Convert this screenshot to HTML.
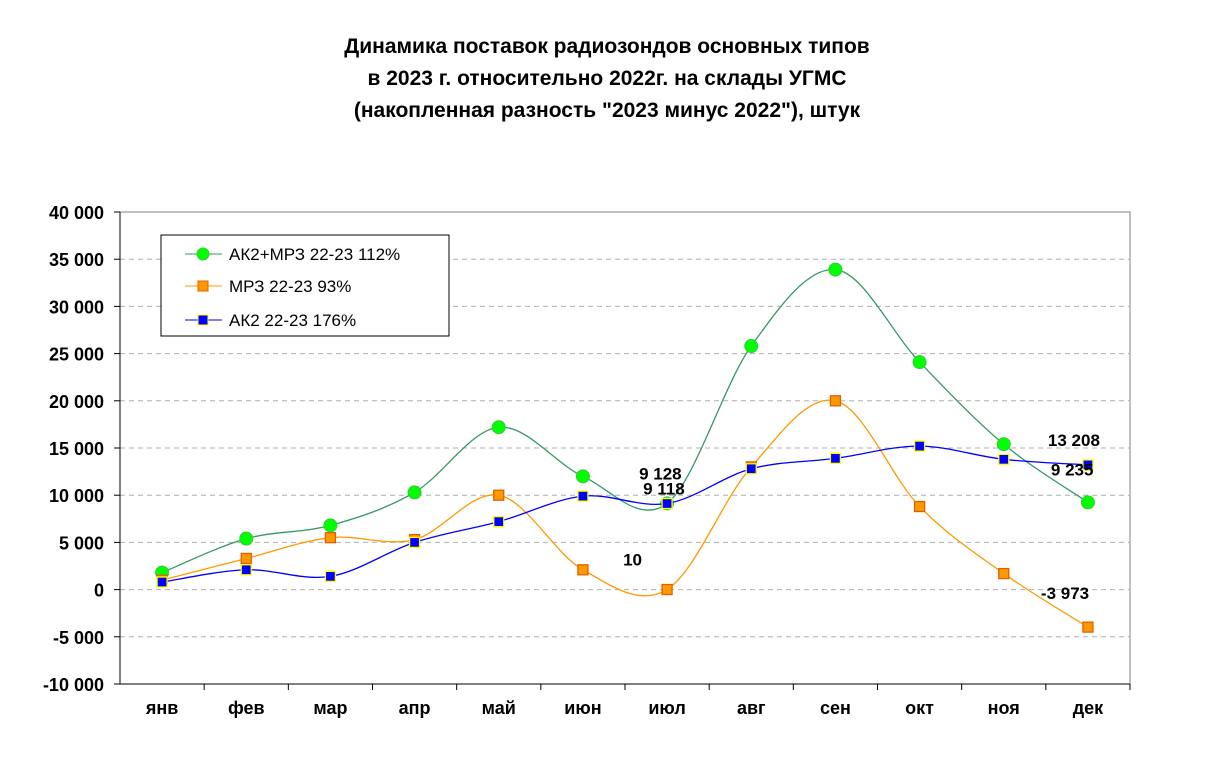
<!DOCTYPE html>
<html><head><meta charset="utf-8"><style>
body{margin:0;background:#fff;}
svg text{font-family:"Liberation Sans",Arial,sans-serif;}
</style></head><body>
<svg width="1213" height="755" xmlns="http://www.w3.org/2000/svg">
<g font-weight="bold" font-size="21" text-anchor="middle">
<text x="607" y="53">Динамика поставок  радиозондов основных типов</text>
<text x="607" y="85">в 2023 г. относительно 2022г. на склады УГМС</text>
<text x="607" y="117">(накопленная разность "2023 минус 2022"),  штук</text>
</g>
<g id="grid"></g>
<g id="axes"></g>
<g id="series"></g>
<g id="labels" font-weight="bold" font-size="17"></g>
<g>
<rect x="161" y="235" width="288" height="101" fill="#fff" stroke="#000" stroke-width="1"/>
<line x1="185" y1="254" x2="222" y2="254" stroke="#339966"/>
<circle cx="203" cy="254" r="6" fill="#00ff00" stroke="#33cc33"/>
<text x="229" y="260" font-size="17">АК2+МРЗ 22-23 112%</text>
<line x1="185" y1="286" x2="222" y2="286" stroke="#ff9900"/>
<rect x="198" y="281" width="10" height="10" fill="#ff9900" stroke="#e06000"/>
<text x="229" y="292" font-size="17">МРЗ 22-23 93%</text>
<line x1="185" y1="320" x2="222" y2="320" stroke="#0000ff"/>
<rect x="198" y="315" width="10" height="10" fill="#0000ff" stroke="#ffff00"/>
<text x="229" y="326" font-size="17">АК2 22-23 176%</text>
</g>
</svg>
<script>
const categories=["янв","фев","мар","апр","май","июн","июл","авг","сен","окт","ноя","дек"];
const yTicks=[-10000,-5000,0,5000,10000,15000,20000,25000,30000,35000,40000];
const yTickLabels=["-10 000","-5 000","0","5 000","10 000","15 000","20 000","25 000","30 000","35 000","40 000"];
const totalValues=[1800,5400,6800,10300,17200,12000,9128,25800,33900,24100,15400,9235];
const mrzValues=[1000,3300,5500,5300,10000,2100,10,13000,20000,8800,1700,-3973];
const ak2Values=[800,2100,1400,5000,7200,9900,9118,12800,13900,15200,13800,13208];
const X0=120,X1=1130,Y0=684,Y1=212,YMIN=-10000,YMAX=40000;
const NS="http://www.w3.org/2000/svg";
const bw=(X1-X0)/categories.length;
function xs(i){return X0+bw*(i+0.5);}
function ys(v){return Y0-(v-YMIN)/(YMAX-YMIN)*(Y0-Y1);}
function mk(tag,attrs,parent){const e=document.createElementNS(NS,tag);for(const k in attrs)e.setAttribute(k,attrs[k]);parent.appendChild(e);return e;}
const grid=document.getElementById('grid'),axes=document.getElementById('axes'),series=document.getElementById('series'),labels=document.getElementById('labels');
mk('rect',{x:X0,y:Y1,width:X1-X0,height:Y0-Y1,fill:'none',stroke:'#808080'},grid);
yTicks.forEach((t,i)=>{const y=ys(t);
 if(t!==YMIN&&t!==YMAX){const l=mk('line',{x1:X0,x2:X1,y1:y,y2:y,stroke:'#b0b0b0','stroke-dasharray':'5,4'},grid);
 
 }
 mk('line',{x1:X0-6,x2:X0,y1:y,y2:y,stroke:'#000'},axes);
 const tx=mk('text',{x:X0-16,y:y+7,'text-anchor':'end','font-size':'18','font-weight':'bold'},axes);tx.textContent=yTickLabels[i];
 
 
});
mk('line',{x1:X0,x2:X0,y1:Y1,y2:Y0,stroke:'#000'},axes);
mk('line',{x1:X0,x2:X1,y1:Y0,y2:Y0,stroke:'#000'},axes);
categories.forEach((c,i)=>{const xe=X0+bw*(i+1);
 mk('line',{x1:xe,x2:xe,y1:Y0,y2:Y0+6,stroke:'#000'},axes);
 const tx=mk('text',{x:xs(i),y:Y0+30,'text-anchor':'middle','font-size':'18','font-weight':'bold'},axes);tx.textContent=c;
 
 
});
function smooth(vals){const p=vals.map((v,i)=>[xs(i),ys(v)]);let d='M'+p[0][0]+','+p[0][1];
 for(let i=0;i<p.length-1;i++){const a=p[Math.max(0,i-1)],b=p[i],c=p[i+1],e=p[Math.min(p.length-1,i+2)];const k=1/6;
 d+=' C'+(b[0]+(c[0]-a[0])*k)+','+(b[1]+(c[1]-a[1])*k)+' '+(c[0]-(e[0]-b[0])*k)+','+(c[1]-(e[1]-b[1])*k)+' '+c[0]+','+c[1];}
 return d;}
function drawSeries(vals,name,line,fill,stroke,shape){
 const g=mk('g',{},series);
 
 
 mk('path',{d:smooth(vals),fill:'none',stroke:line,'stroke-width':1.3},g);
 vals.forEach((v,i)=>{let m;
  if(shape==='circle')m=mk('circle',{cx:xs(i),cy:ys(v),r:6.5,fill:fill,stroke:stroke},g);
  else m=mk('rect',{x:xs(i)-5,y:ys(v)-5,width:10,height:10,fill:fill,stroke:stroke,'stroke-width':1.3},g);
  
  
 });}
drawSeries(totalValues,'series-total','#339966','#00ff00','#33cc33','circle');
drawSeries(mrzValues,'series-mrz','#ff9900','#ff9900','#e06000','rect');
drawSeries(ak2Values,'series-ak2','#0000ff','#0000ff','#ffff00','rect');
function fmt(v){const s=Math.abs(v).toString().replace(/\B(?=(\d{3})+(?!\d))/g,' ');return (v<0?'-':'')+s;}
const lbl=[[totalValues[6],xs(6)-28,ys(totalValues[6])-24],[ak2Values[6],xs(6)-24,ys(ak2Values[6])-9],[mrzValues[6],xs(6)-44,ys(mrzValues[6])-24],
 [ak2Values[11],xs(11)-40,ys(ak2Values[11])-19],[totalValues[11],xs(11)-37,ys(totalValues[11])-27],[mrzValues[11],xs(11)-47,ys(mrzValues[11])-28]];
lbl.forEach(a=>{const t=mk('text',{x:a[1],y:a[2]},labels);t.textContent=fmt(a[0]);
 
 });
</script>
</body></html>
